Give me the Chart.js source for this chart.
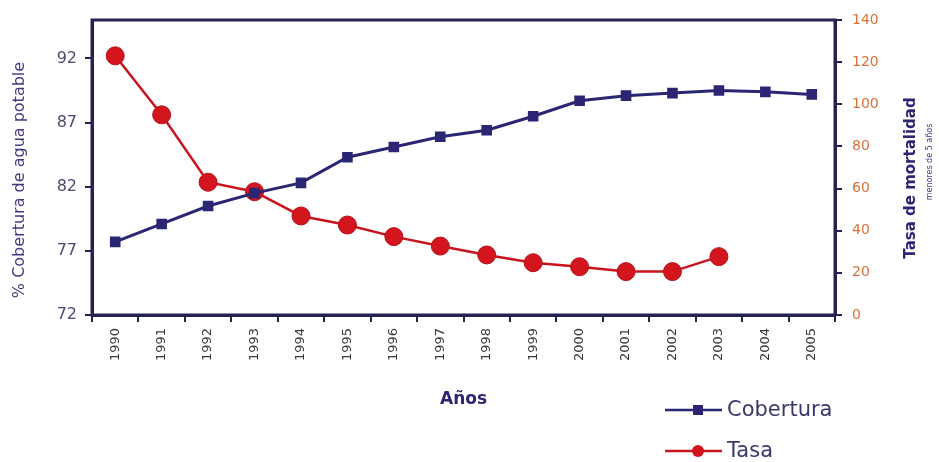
<!DOCTYPE html>
<html>
<head>
<meta charset="utf-8">
<script src="https://cdn.jsdelivr.net/npm/chart.js@4.4.0/dist/chart.umd.min.js"></script>
<style>
    html, body { margin: 0; padding: 0; background: #fff; }
    #wrap { width: 939px; height: 462px; }
</style>
</head>
<body>
<div id="wrap"><canvas id="chart" width="939" height="462"></canvas></div>
<script>
// ==========================
// Data
// ==========================

const years = ["1990", "1991", "1992", "1993", "1994", "1995", "1996", "1997",
               "1998", "1999", "2000", "2001", "2002", "2003", "2004", "2005"];

const cobertura = [77.7, 79.1, 80.5, 81.5, 82.3, 84.3, 85.1, 85.9,
                   86.4, 87.5, 88.7, 89.1, 89.3, 89.5, 89.4, 89.2];

const tasa = [123, 95, 63, 58.5, 47, 42.7, 37.2, 32.7,
              28.5, 24.8, 22.9, 20.6, 20.6, 27.7, null, null];

const coberturaTicks = [72, 77, 82, 87, 92];
const tasaTicks = [0, 20, 40, 60, 80, 100, 120, 140];

// ==========================
// Colours
// ==========================

const NAVY = "#2b2673";
const AXIS = "#24234f";
const RED = "#d3161e";

Chart.defaults.font.family = "'DejaVu Sans', sans-serif";

// frame round the plot area
const framePlugin = {
    id: "frame",
    beforeDatasetsDraw(chart) {
        const { ctx, chartArea: a } = chart;
        ctx.save();
        ctx.strokeStyle = AXIS;
        ctx.lineWidth = 3;
        ctx.strokeRect(a.left, a.top, a.right - a.left, a.bottom - a.top);
        ctx.restore();
    }
};

// axis titles, both read bottom to top
const titlesPlugin = {
    id: "axisTitles",
    afterDraw(chart) {
        const { ctx } = chart;
        const put = (text, x, y, font, color) => {
            ctx.save();
            ctx.translate(x, y);
            ctx.rotate(-Math.PI / 2);
            ctx.textAlign = "center";
            ctx.textBaseline = "middle";
            ctx.fillStyle = color;
            ctx.font = font;
            ctx.fillText(text, 0, 0);
            ctx.restore();
        };
        put("% Cobertura de agua potable", 20, 180, "16px 'DejaVu Sans', sans-serif", "#3d3a80");
        put("Tasa de mortalidad", 911, 178, "bold 15px 'DejaVu Sans', sans-serif", NAVY);
        put("menores de 5 años", 930, 162, "8px 'DejaVu Sans', sans-serif", "#3d3a85");
    }
};

// legend stacked at the bottom right
const legendPlugin = {
    id: "stackLegend",
    afterDraw(chart) {
        const { ctx } = chart;
        const rows = [410, 451];
        chart.data.datasets.forEach((ds, i) => {
            const y = rows[i];
            ctx.save();
            ctx.strokeStyle = ds.borderColor;
            ctx.lineWidth = 2.5;
            ctx.beginPath();
            ctx.moveTo(665, y);
            ctx.lineTo(722, y);
            ctx.stroke();
            ctx.fillStyle = ds.pointBackgroundColor;
            if (ds.pointStyle === "rect") {
                ctx.fillRect(693, y - 5, 10, 10);
            } else {
                ctx.beginPath();
                ctx.arc(698, y, 6, 0, Math.PI * 2);
                ctx.fill();
            }
            ctx.fillStyle = "#3a3a6a";
            ctx.font = "21px 'DejaVu Sans', sans-serif";
            ctx.textAlign = "left";
            ctx.textBaseline = "middle";
            ctx.fillText(ds.label, 727, y + 1);
            ctx.restore();
        });
    }
};

new Chart(document.getElementById("chart"), {

    type: "line",

    data: {
        labels: years,
        datasets: [
            {
                label: "Cobertura",
                data: cobertura,
                yAxisID: "y",
                borderColor: NAVY,
                borderWidth: 3,
                pointStyle: "rect",
                pointRadius: 7.5,
                pointBackgroundColor: NAVY,
                pointBorderColor: NAVY,
                pointBorderWidth: 0,
                tension: 0
            },
            {
                label: "Tasa",
                data: tasa,
                yAxisID: "y1",
                borderColor: "#c8141c",
                borderWidth: 2.5,
                pointStyle: "circle",
                pointRadius: 9,
                pointBackgroundColor: RED,
                pointBorderColor: "#b3101a",
                pointBorderWidth: 1,
                tension: 0,
                spanGaps: false
            }
        ]
    },

    options: {
        responsive: false,
        animation: false,
        layout: {
            padding: { top: 20, bottom: 40, left: 0, right: 0 }
        },
        plugins: {
            legend: { display: false },
            tooltip: { enabled: false }
        },
        scales: {
            x: {
                offset: true,
                grid: {
                    offset: true,
                    drawOnChartArea: false,
                    drawTicks: true,
                    tickLength: 7,
                    color: AXIS,
                    lineWidth: 2
                },
                border: { display: true, color: AXIS, width: 3 },
                ticks: {
                    minRotation: 90,
                    maxRotation: 90,
                    autoSkip: false,
                    padding: 6,
                    color: "#3a3a3a",
                    font: { size: 13 }
                },
                title: {
                    display: true,
                    text: "Años",
                    color: NAVY,
                    font: { size: 17, weight: "bold" },
                    padding: { top: 0, bottom: 12 }
                },
                afterFit: s => { s.height = 107; }
            },
            y: {
                position: "left",
                min: 72,
                max: 95,
                afterBuildTicks: s => { s.ticks = coberturaTicks.map(v => ({ value: v })); },
                grid: {
                    drawOnChartArea: false,
                    tickLength: 7,
                    color: AXIS,
                    lineWidth: 2
                },
                border: { display: true, color: AXIS, width: 3 },
                ticks: {
                    padding: 8,
                    color: "#4a4a76",
                    font: { size: 16 }
                },
                afterFit: s => { s.width = 92; }
            },
            y1: {
                position: "right",
                min: 0,
                max: 140,
                afterBuildTicks: s => { s.ticks = tasaTicks.map(v => ({ value: v })); },
                grid: {
                    drawOnChartArea: false,
                    tickLength: 7,
                    color: AXIS,
                    lineWidth: 2
                },
                border: { display: true, color: AXIS, width: 3 },
                ticks: {
                    padding: 10,
                    color: "#d9703a",
                    font: { size: 14 }
                },
                afterFit: s => { s.width = 104; }
            }
        }
    },

    plugins: [framePlugin, titlesPlugin, legendPlugin]

});
</script>
</body>
</html>
